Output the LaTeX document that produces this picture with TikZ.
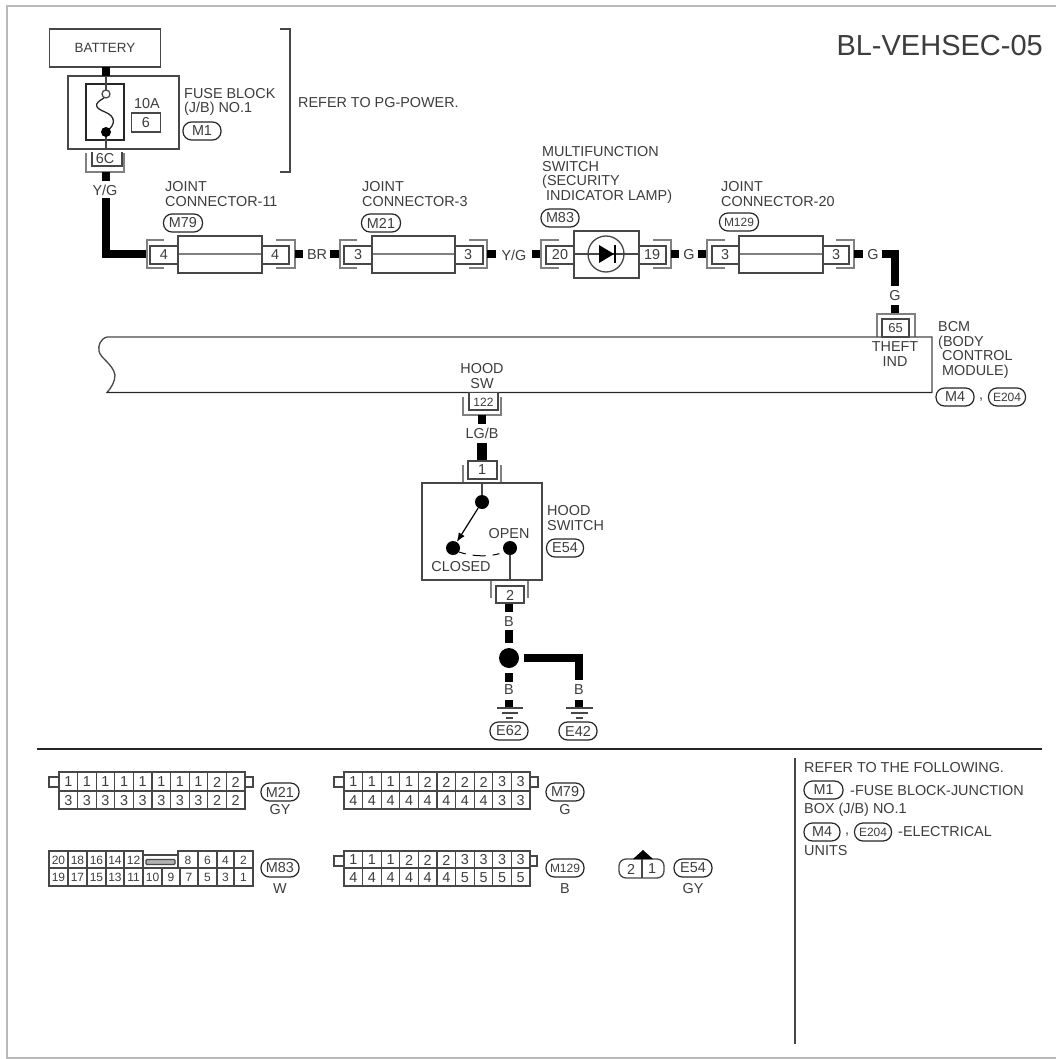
\documentclass[tikz,border=0pt]{standalone}
\usepackage{fontspec}
\setmainfont{Liberation Sans}
\usetikzlibrary{arrows.meta}
\definecolor{ink}{gray}{0.24}
\definecolor{linec}{gray}{0.28}
\definecolor{brk}{gray}{0.5}
\newcommand{\fs}{\fontsize{14.4}{14.6}\selectfont}
\tikzset{
  thin line/.style={draw=linec,line width=1.3pt},
  wire/.style={draw=black,line width=8pt},
  txt/.style={inner sep=0pt,text=ink,font=\fs},
  ltxt/.style={txt,anchor=west,align=left},
  box/.style={thin line,fill=white},
  tag/.style={draw=black!85,line width=1.2pt,rounded corners=8.5pt,minimum height=18pt,inner sep=0pt,text=ink,font=\fs},
  longtag/.style={tag,font=\fontsize{12}{13}\selectfont},
  bracket/.style={draw=brk,line width=1.8pt},
  dotb/.style={fill=black,draw=none,circle}
}
\begin{document}
\begin{tikzpicture}[x=1pt,y=-1pt]
\useasboundingbox (0,0) rectangle (1062,1059);
\fill[white] (0,0) rectangle (1062,1059);
% frame (open on the right)
\draw[gray!55,line width=1.6pt] (1056,6) -- (7,6) -- (7,1058) -- (1056,1058);
% title
\node[txt,font=\fontsize{29}{30}\selectfont,anchor=east] (title) at (1043,46) {BL-VEHSEC-05};
% battery
\node[box,minimum width=111pt,minimum height=38pt,inner sep=0pt,text=ink,font=\fontsize{13.4}{14}\selectfont] (bat) at (105,48) {BATTERY};
\draw[box] (68,76) rectangle (179,149);
\draw[black!85,line width=1.4pt] (86,84) rectangle (124,140);
\draw[wire] (106,67) -- (106,76);
\draw[thin line] (106,76) -- (106,90);
\draw[thin line] (106,132) -- (106,149);
\draw[thin line] (106,94) circle (4);
\draw[black!85,line width=1.3pt] (104,98) .. controls (93,104) and (95,108) .. (105,112) .. controls (115,116) and (117,124) .. (106,132);
\node[dotb,minimum size=10pt,inner sep=0pt] (fd) at (106,132) {};
\node[txt] (a10) at (147,104) {10A};
\node[box,minimum width=29pt,minimum height=19pt,inner sep=0pt,text=ink,font=\fs] (f6) at (146,122.5) {6};
\node[ltxt] (fb) at (184,102) {FUSE BLOCK\\(J/B) NO.1};
\node[tag,minimum width=38pt] (m1) at (202,131) {M1};
% bracket
\draw[linec,line width=1.5pt] (280,29) -- (290,29) -- (290,172) -- (280,172);
\node[ltxt] (ref) at (298,103) {REFER TO PG-POWER.};
% 6C
\draw[bracket] (86,153) -- (86,172) -- (124,172) -- (124,153);
\draw[thin line] (92,152) -- (92,166) -- (122,166) -- (122,152);
\node[txt] (c6) at (105,158.5) {6C};
\draw[wire] (106,172) -- (106,181);
\node[txt] (yg1) at (105,190) {Y/G};
\draw[wire,line join=miter] (106,198) -- (106,254) -- (147,254);
% joint 11
\node[ltxt] (j11) at (165,194) {JOINT\\CONNECTOR-11};
\node[tag,minimum width=39pt] (m79) at (183,223) {M79};
\draw[box] (178,236) rectangle (262,273);
\draw[thin line,draw=brk] (178,254) -- (262,254);
\draw[bracket] (164,240) -- (147,240) -- (147,268) -- (164,268);
\draw[bracket] (276,240) -- (295,240) -- (295,268) -- (276,268);
\draw[box] (150,246) rectangle (178,264);
\draw[box] (262,246) rectangle (289,264);
\node[txt] at (164,255) {4};
\node[txt] at (275,255) {4};
\draw[wire] (295,254) -- (303,254);
\node[txt] (br) at (317,255) {BR};
\draw[wire] (330,254) -- (340,254);
% joint 3
\node[ltxt] (j3) at (362,194) {JOINT\\CONNECTOR-3};
\node[tag,minimum width=39pt] (m21) at (381,223) {M21};
\draw[box] (372,236) rectangle (455,273);
\draw[thin line,draw=brk] (372,254) -- (455,254);
\draw[bracket] (357,240) -- (340,240) -- (340,268) -- (357,268);
\draw[bracket] (469,240) -- (487,240) -- (487,268) -- (469,268);
\draw[box] (344,246) rectangle (372,264);
\draw[box] (455,246) rectangle (483,264);
\node[txt] at (358,255) {3};
\node[txt] at (468,255) {3};
\draw[wire] (487,254) -- (496,254);
\node[txt] (yg2) at (514,255) {Y/G};
\draw[wire] (532,254) -- (541,254);
% multifunction
\node[ltxt] (mf) at (542,175) {MULTIFUNCTION\\SWITCH\\(SECURITY\\\ INDICATOR LAMP)};
\node[tag,minimum width=38pt] (m83) at (560,218) {M83};
\draw[bracket] (559,240) -- (541,240) -- (541,268) -- (559,268);
\draw[bracket] (653,240) -- (671,240) -- (671,268) -- (653,268);
\draw[box] (574,231) rectangle (639,278);
\draw[box] (546,246) rectangle (574,264);
\draw[box] (639,246) rectangle (666,264);
\draw[thin line] (574,254) -- (639,254);
\draw[thin line] (606,254) circle (18);
\fill[black] (599,245) -- (614,254) -- (599,263) -- cycle;
\draw[black,line width=2pt] (615,245) -- (615,263);
\node[txt] at (560,255) {20};
\node[txt] at (652,255) {19};
\draw[wire] (671,254) -- (679,254);
\node[txt] (g1) at (689,255) {G};
\draw[wire] (698,254) -- (707,254);
% joint 20
\node[ltxt] (j20) at (721,194) {JOINT\\CONNECTOR-20};
\node[longtag,minimum width=39pt] (m129) at (739,222) {M129};
\draw[box] (739,236) rectangle (823,273);
\draw[thin line,draw=brk] (739,254) -- (823,254);
\draw[bracket] (725,240) -- (707,240) -- (707,268) -- (725,268);
\draw[bracket] (836,240) -- (854,240) -- (854,268) -- (836,268);
\draw[box] (712,246) rectangle (739,264);
\draw[box] (823,246) rectangle (849,264);
\node[txt] at (725,255) {3};
\node[txt] at (836,255) {3};
\draw[wire] (854,254) -- (863,254);
\node[txt] (g2) at (873,255) {G};
\draw[wire,line join=miter] (882,254) -- (895,254) -- (895,286);
\node[txt] (g3) at (895,296) {G};
\draw[wire] (895,305) -- (895,313);
% BCM
\draw[bracket] (877,337) -- (877,314) -- (915,314) -- (915,337);
\draw[thin line,fill=white] (107,337) -- (932,337) -- (932,392.5) -- (107,392.5)
  .. controls (111,388) and (115,382) .. (115,375) .. controls (113,364) and (100,358) .. (99,351) .. controls (98,346) and (100,339) .. (107,337);
\draw[black!85,line width=1.5pt] (107,392.5) -- (932,392.5);
% 65
\draw[box] (882,319) rectangle (909,337);
\node[txt,font=\fontsize{13}{14}\selectfont] at (895.5,328) {65};
\node[txt,align=center] (theft) at (895,354) {THEFT\\IND};
\node[ltxt] (bcm) at (938,350) {BCM\\(BODY\\\ CONTROL\\\ MODULE)};
\node[tag,minimum width=38pt] (m4) at (955,397) {M4};
\node[txt] at (981,400) {,};
\node[longtag,minimum width=37pt] (e204) at (1007,397) {E204};
% hood
\node[txt,align=center] (hsw) at (482,376) {HOOD\\SW};
\draw[bracket] (463,397) -- (463,415) -- (501,415) -- (501,397);
\draw[box] (469,392.5) rectangle (498,410);
\node[txt,font=\fontsize{12}{13}\selectfont] at (483.5,402) {122};
\draw[wire] (482,415) -- (482,424);
\node[txt] (lgb) at (482,433) {LG/B};
\draw[wire,line width=9.5pt] (482,443) -- (482,461);
\draw[bracket] (463,465) -- (463,483);
\draw[bracket] (501,465) -- (501,483);
\draw[box] (468,461) rectangle (497,479);
\node[txt] at (482,470) {1};
\draw[thin line] (422,483) rectangle (542,580);
\draw[thin line] (482,483) -- (482,502);
\node[dotb,minimum size=14pt,inner sep=0pt] (sa) at (482,502) {};
\node[dotb,minimum size=14pt,inner sep=0pt] (sb) at (453,548) {};
\node[dotb,minimum size=14pt,inner sep=0pt] (sc) at (510,548) {};
\draw[black,line width=1.2pt,-{Latex[length=9pt,width=7pt]}] (sa) -- (sb);
\draw[black,line width=1pt,dash pattern=on 7pt off 7pt on 13pt off 7pt on 7pt off 10pt] (459,552) .. controls (470,556) and (490,558) .. (504,552);
\draw[thin line] (sc) -- (510,580);
\node[txt] (open) at (509,534) {OPEN};
\node[txt] (closed) at (461,567) {CLOSED};
\node[ltxt] (hs) at (547,518) {HOOD\\SWITCH};
\node[tag,minimum width=37pt] (e54) at (565,548) {E54};
% conn 2
\draw[bracket] (491,581) -- (491,598);
\draw[bracket] (528,581) -- (528,598);
\draw[box] (496,586) rectangle (524,603);
\node[txt] at (510,595) {2};
\draw[wire] (509,604) -- (509,612);
\node[txt] (b1) at (509,622) {B};
\draw[wire] (509,630) -- (509,643);
\node[dotb,minimum size=20pt,inner sep=0pt] (jn) at (509,658) {};
\draw[wire] (509,673) -- (509,682);
\node[txt] (b2) at (509,690) {B};
\draw[wire] (509,700) -- (509,708);
\draw[wire,line join=miter] (524,658) -- (579,658) -- (579,680);
\node[txt] (b3) at (579,690) {B};
\draw[wire] (579,700) -- (579,708);
% grounds
\draw[thin line] (497,708) -- (523,708);
\draw[thin line] (502,713) -- (518,713);
\draw[thin line] (506,718) -- (513,718);
\draw[thin line] (566,708) -- (593,708);
\draw[thin line] (571,713) -- (588,713);
\draw[thin line] (576,718) -- (583,718);
\node[tag,minimum width=38pt] (e62) at (509,731) {E62};
\node[tag,minimum width=38pt] (e42) at (578,731) {E42};
% divider
\draw[draw=black!85,line width=1.6pt] (37,749) -- (1042,749);
\draw[draw=linec,line width=1.4pt] (795,758) -- (795,1044);
% M21, M79 blocks
\foreach \bx/\tp/\bt in {59/{1,1,1,1,1,1,1,1,2,2}/{3,3,3,3,3,3,3,3,2,2},344/{1,1,1,1,2,2,2,2,3,3}/{4,4,4,4,4,4,4,4,3,3}}{
  \draw[thin line] (\bx-10,777) rectangle (\bx,787);
  \draw[thin line] (\bx+186,777) rectangle (\bx+194,787);
  \draw[box] (\bx,772) rectangle (\bx+186,809);
  \draw[thin line] (\bx,791) -- (\bx+186,791);
  \foreach \v [count=\i from 0] in \tp { \node[txt] at (\bx+9.3+18.6*\i,782) {\v};
    \ifnum\i>0 \draw[thin line] (\bx+18.6*\i,772) -- (\bx+18.6*\i,809);\fi }
  \foreach \v [count=\i from 0] in \bt { \node[txt] at (\bx+9.3+18.6*\i,800.5) {\v}; }
}
\node[tag,minimum width=38pt] (tm21) at (280,792) {M21};
\node[txt] (gy1) at (280,810) {GY};
\node[tag,minimum width=38pt] (tm79) at (565,792) {M79};
\node[txt] (gg) at (565,810) {G};
% M129
\draw[thin line] (334,856) rectangle (344,866);
\draw[thin line] (529,856) rectangle (537,866);
\draw[box] (344,851) rectangle (530,886);
\draw[thin line] (344,868) -- (530,868);
\foreach \v [count=\i from 0] in {1,1,1,2,2,2,3,3,3,3} { \node[txt] at (353.3+18.6*\i,860) {\v};
  \ifnum\i>0 \draw[thin line] (344+18.6*\i,851) -- (344+18.6*\i,886);\fi }
\foreach \v [count=\i from 0] in {4,4,4,4,4,4,5,5,5,5} { \node[txt] at (353.3+18.6*\i,877.5) {\v}; }
\node[longtag,minimum width=38pt] (tm129) at (565,868) {M129};
\node[txt] (bb) at (565,889) {B};
% M83
\draw[thin line,fill=white] (49,851) -- (143,851) -- (143,855) -- (178,855) -- (178,851) -- (253,851) -- (253,886) -- (49,886) -- cycle;
\draw[thin line] (49,868) -- (253,868);
\foreach \x in {68,87,106,124,143,178,198,217,234} \draw[thin line] (\x,851) -- (\x,868);
\foreach \x in {68,87,106,124,143,162,180,198,217,234} \draw[thin line] (\x,868) -- (\x,886);
\draw[thin line,fill=gray!60,rounded corners=1pt] (146,859.5) rectangle (175,864.5);
\foreach \v/\x in {20/58.5,18/77.5,16/96.5,14/115,12/133.5,8/188,6/207.5,4/225.5,2/243.5}
  \node[txt,font=\fontsize{12}{13}\selectfont] at (\x,860) {\v};
\foreach \v/\x in {19/58.5,17/77.5,15/96.5,13/115,11/133.5,10/152.5,9/171,7/189,5/207.5,3/225.5,1/243.5}
  \node[txt,font=\fontsize{12}{13}\selectfont] at (\x,877.5) {\v};
\node[tag,minimum width=38pt] (tm83) at (280,868) {M83};
\node[txt] (ww) at (280,889) {W};
% E54 conn
\draw[box,rounded corners=7pt] (619,859) rectangle (664,878);
\draw[thin line] (642,859) -- (642,878);
\fill[black] (633,859) -- (643,850) -- (653,859) -- cycle;
\node[txt] at (631,869) {2};
\node[txt] at (652,869) {1};
\node[tag,minimum width=38pt] (te54) at (693,868) {E54};
\node[txt] (gy2) at (693,889) {GY};
% notes
\node[ltxt] (n1) at (804,768) {REFER TO THE FOLLOWING.};
\node[tag,minimum width=39pt] (nm1) at (823.5,790) {M1};
\node[ltxt] (n2) at (850,791) {-FUSE BLOCK-JUNCTION};
\node[ltxt] (n3) at (804,810) {BOX (J/B) NO.1};
\node[tag,minimum width=36pt] (nm4) at (822,832) {M4};
\node[txt] at (847,835) {,};
\node[longtag,minimum width=37pt] (ne204) at (873,832) {E204};
\node[ltxt] (n4) at (898,832) {-ELECTRICAL};
\node[ltxt] (n5) at (804,851) {UNITS};
\end{tikzpicture}
\end{document}
